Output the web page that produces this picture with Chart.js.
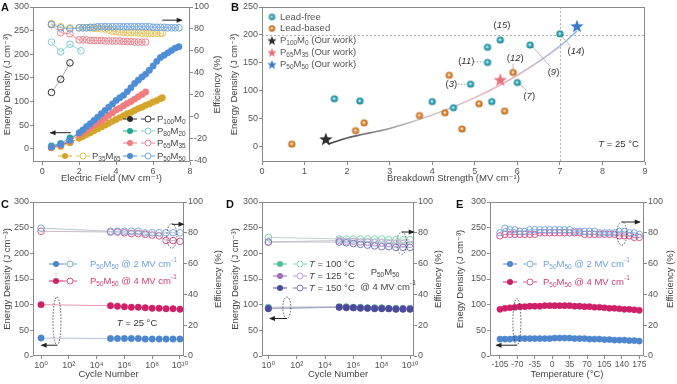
<!DOCTYPE html>
<html>
<head>
<meta charset="utf-8">
<script src="https://cdn.jsdelivr.net/npm/chart.js@4.4.1/dist/chart.umd.min.js"></script>
<style>
body { margin: 0; background: #fff; }
#wrap { position: relative; width: 677px; height: 384px; overflow: hidden; background: #fff; }
canvas { position: absolute; }
</style>
</head>
<body>
<div id="wrap">
  <canvas id="cA" width="225" height="192" style="left:0;top:0"></canvas>
  <canvas id="cB" width="452" height="192" style="left:225px;top:0"></canvas>
  <canvas id="cC" width="225" height="192" style="left:0;top:192px"></canvas>
  <canvas id="cD" width="223" height="192" style="left:225px;top:192px"></canvas>
  <canvas id="cE" width="229" height="192" style="left:448px;top:192px"></canvas>
</div>
<script>
// ---- Panel A : energy density / efficiency vs electric field ----
const fieldP100 = [0.5, 1.0, 1.5];
const energyP100 = [3, 8, 14];
const effP100 = [22, 34, 49];

const fieldP80 = [0.5, 1.0, 1.5, 2.1];
const energyP80 = [6, 11, 23, 34];
const effP80 = [68, 59, 66, 60];

const fieldP65 = [0.5, 1.0, 1.5, 2.0, 2.2, 2.4, 2.6, 2.8, 3.0, 3.2, 3.4, 3.6, 3.8, 4.0, 4.2, 4.4, 4.6, 4.8, 5.0, 5.2, 5.4, 5.6];
const energyP65 = [3, 7, 16, 30, 35, 40, 45, 50, 55, 60, 65, 71, 76, 82, 86, 91, 96, 100, 105, 110, 115, 120];
const effP65 = [84, 76.5, 75.5, 70, 70, 70, 69.5, 69.5, 69.5, 69.5, 69, 69, 69, 69, 69, 68.5, 68.5, 68.5, 68, 68, 68, 68];

const fieldP50 = [0.5, 1.0, 1.5, 2.0, 2.2, 2.4, 2.6, 2.8, 3.0, 3.2, 3.4, 3.6, 3.8, 4.0, 4.2, 4.4, 4.6, 4.8, 5.0, 5.2, 5.4, 5.6, 5.8, 6.0, 6.2, 6.4, 6.6, 6.8, 7.0, 7.2, 7.4];
const energyP50 = [4, 9, 18, 34, 40, 47, 53, 60, 67, 74, 81, 88, 95, 102, 108, 113, 121, 129, 138, 145, 152, 158, 166, 175, 185, 193, 198, 203, 208, 213, 216];
const effP50 = [84, 81, 80, 81, 81, 81, 81.5, 81.5, 82, 82, 82, 82, 82, 82, 82, 82, 82, 82, 82, 82, 82, 82, 82, 81.5, 81.5, 81.5, 81.5, 81, 81, 81, 81];

const fieldP35 = [0.5, 1.0, 1.5, 2.0, 2.2, 2.4, 2.6, 2.8, 3.0, 3.2, 3.4, 3.6, 3.8, 4.0, 4.2, 4.4, 4.6, 4.8, 5.0, 5.2, 5.4, 5.6, 5.8, 6.0, 6.2, 6.4, 6.5];
const energyP35 = [2, 5, 13, 22, 26, 30, 34, 38, 42, 46, 50, 54, 58, 62, 66, 70, 74, 77, 81, 85, 88, 92, 95, 99, 102, 106, 108];
const effP35 = [85, 82, 81, 81, 81, 81, 81, 80.5, 80.5, 80, 80, 79, 78, 77.5, 77, 77, 76.5, 76.5, 76.5, 76.5, 76, 76, 76, 76, 76, 76, 76];

const fieldTicks = [0, 2, 4, 6, 8];
const energyTicksA = [0, 50, 100, 150, 200, 250, 300];
const effTicksA = [-40, -20, 0, 20, 40, 60, 80, 100];

// ---- Panel B : energy density vs breakdown strength ----
const leadFreeX = [1.7, 2.3, 4.0, 4.5, 4.9, 5.3, 5.3, 5.4, 5.6, 6.0, 6.3, 7.0];
const leadFreeY = [86, 82, 81, 70, 112, 151, 178, 81, 191, 115, 182, 202];
const leadBasedX = [0.7, 2.2, 2.4, 3.7, 4.3, 4.4, 4.7, 5.1, 5.7, 5.9];
const leadBasedY = [5, 29, 43, 56, 61, 128, 32, 77, 64, 133];
const oursP100 = [1.5, 14];
const oursP65 = [5.6, 120];
const oursP50 = [7.4, 216];
const fitX = [1.55, 2, 3, 4, 5, 6, 7, 7.4];
const fitY = [5, 16, 33, 57, 88, 128, 180, 207];
const strengthTicks = [0, 1, 2, 3, 4, 5, 6, 7, 8, 9];
const energyTicksB = [0, 50, 100, 150, 200, 250];

// ---- Panel C : cycling at 25 °C ----
const cycles = [1, 1e5, 3.16e5, 1e6, 3.16e6, 1e7, 3.16e7, 1e8, 3.16e8, 1e9, 3.16e9, 1e10];
const energyC2 = [35, 34, 34, 34, 34, 34, 33, 33, 33, 33, 33, 33];
const energyC4 = [100, 98, 97, 96, 95, 95, 94, 93, 93, 92, 92, 91];
const effC2 = [83, 81, 81, 81, 81, 81, 80, 80, 80, 80, 80, 80];
const effC4 = [81, 80.5, 80.5, 80, 79.5, 79.5, 79, 78.5, 78, 75, 75, 74.5];
const cycleTicks = [1, 1e2, 1e4, 1e6, 1e8, 1e10];
const energyTicks = [0, 50, 100, 150, 200, 250, 300];
const effTicks = [0, 20, 40, 60, 80, 100];

// ---- Panel D : cycling at high temperature ----
const energyD100 = [95, 96, 96, 95, 95, 94, 94, 94, 93, 93, 93, 93];
const energyD125 = [93, 95, 95, 94, 94, 93, 93, 93, 92, 92, 92, 92];
const energyD150 = [92, 95, 94, 94, 93, 93, 92, 92, 92, 91, 91, 91];
const effD100 = [77, 76, 76, 76, 76, 76, 76, 76, 75.5, 75.5, 75.5, 75.5];
const effD125 = [74, 75, 74.5, 74.5, 74, 74, 73.5, 73.5, 73, 73, 73, 72.5];
const effD150 = [74, 74, 73.5, 73, 72.5, 72, 71.5, 71, 71, 70.5, 70.5, 70.5];

// ---- Panel E : temperature stability ----
const temps = [-105, -95, -85, -75, -65, -55, -45, -35, -25, -15, -5, 5, 15, 25, 35, 45, 55, 65, 75, 85, 95, 105, 115, 125, 135, 145, 155, 165, 175];
const energyE2 = [33, 33, 33, 34, 34, 34, 34, 34, 34, 34, 34, 35, 35, 35, 35, 34, 34, 34, 33, 33, 33, 32, 32, 31, 31, 31, 30, 30, 29];
const energyE4 = [91, 93, 94, 95, 96, 96, 97, 97, 97, 98, 98, 98, 98, 98, 98, 97, 97, 96, 96, 95, 95, 94, 93, 93, 92, 91, 91, 90, 89];
const effE2 = [80, 83, 82, 82, 81, 81, 82, 82, 82, 82, 82, 82, 82, 82, 82, 81, 81, 81, 81, 81, 80, 80, 80, 80, 81, 81, 80, 80, 79];
const effE4 = [78, 79, 79, 79, 79, 79, 79, 79, 80, 80, 80, 80, 80, 80, 80, 80, 80, 79, 79, 79, 79, 79, 79, 79, 78, 78, 78, 77, 77];
const tempTicks = [-105, -70, -35, 0, 35, 70, 105, 140, 175];

// ------------------------------------------------------------------
const FONT = "'Liberation Sans', Arial, 'DejaVu Sans', sans-serif";
Chart.defaults.font.family = FONT;
Chart.defaults.font.size = 9;
Chart.defaults.color = '#555';

const pts = (xs, ys) => xs.map((x, i) => ({ x, y: ys[i] }));
const SUP = '⁰¹²³⁴⁵⁶⁷⁸⁹';
const supDigits = n => String(n).split('').map(d => SUP[+d]).join('');

function filled(xs, ys, color, yAxisID = 'y', r = 3.2, lineColor) {
    return { data: pts(xs, ys), yAxisID, showLine: true, borderColor: lineColor || color, borderWidth: 0.8,
        pointRadius: r, pointBackgroundColor: color, pointBorderColor: color, pointBorderWidth: 0.5 };
}
function hollow(xs, ys, color, yAxisID = 'y2', r = 3.3, lineColor) {
    return { data: pts(xs, ys), yAxisID, showLine: true, borderColor: lineColor || color, borderWidth: 0.8,
        pointRadius: r, pointBackgroundColor: 'rgba(255,255,255,0)', pointBorderColor: color, pointBorderWidth: 1 };
}

// fixed-size axis with explicit ticks
function axis(type, position, min, max, ticks, size, title, titlePad, callback) {
    const vertical = position === 'left' || position === 'right';
    const cfg = {
        type, position, min, max,
        afterBuildTicks: s => { s.ticks = ticks.map(v => ({ value: v })); },
        afterFit: s => { if (vertical) s.width = size; else s.height = size; },
        grid: { drawOnChartArea: false, tickLength: 3, color: '#888', lineWidth: 1 },
        border: { display: false },
        ticks: { padding: 1, autoSkip: false, maxRotation: 0, minRotation: 0, color: '#555', font: { size: 9 } },
        title: title ? { display: true, text: title, color: '#444', font: { size: 9.5 },
            padding: vertical ? { top: titlePad, bottom: 0 } : { top: 0, bottom: titlePad } } : { display: false }
    };
    if (callback) cfg.ticks.callback = callback;
    return cfg;
}

function baseOptions(padding, scales) {
    return {
        responsive: false, devicePixelRatio: 1, animation: false,
        layout: { padding, autoPadding: false },
        plugins: { legend: { display: false }, tooltip: { enabled: false } },
        scales
    };
}

// text with _{sub} ^{sup} *italic*
function richText(ctx, x, y, str, size, color, align) {
    const parts = [];
    const re = /_\{([^}]*)\}|\^\{([^}]*)\}|\*([^*]*)\*|([^_^*]+)/g;
    let m;
    while ((m = re.exec(str))) {
        if (m[1] !== undefined) parts.push({ t: m[1], k: 'sub' });
        else if (m[2] !== undefined) parts.push({ t: m[2], k: 'sup' });
        else if (m[3] !== undefined) parts.push({ t: m[3], k: 'it' });
        else parts.push({ t: m[4], k: '' });
    }
    const fontFor = k => (k === 'it' ? 'italic ' : '') + ((k === 'sub' || k === 'sup') ? size * 0.68 : size) + 'px ' + FONT;
    let w = 0;
    parts.forEach(p => { ctx.font = fontFor(p.k); p.w = ctx.measureText(p.t).width; w += p.w; });
    let cx = align === 'center' ? x - w / 2 : align === 'right' ? x - w : x;
    ctx.fillStyle = color; ctx.textBaseline = 'middle'; ctx.textAlign = 'left';
    parts.forEach(p => {
        ctx.font = fontFor(p.k);
        const dy = p.k === 'sub' ? size * 0.3 : p.k === 'sup' ? -size * 0.35 : 0;
        ctx.fillText(p.t, cx, y + dy);
        cx += p.w;
    });
}

function arrow(ctx, x1, y1, x2, y2) {
    ctx.setLineDash([]);
    ctx.strokeStyle = '#222'; ctx.fillStyle = '#222'; ctx.lineWidth = 1;
    ctx.beginPath(); ctx.moveTo(x1, y1); ctx.lineTo(x2, y2); ctx.stroke();
    const dir = Math.sign(x2 - x1) || 1;
    ctx.beginPath(); ctx.moveTo(x2 + dir * 1, y2); ctx.lineTo(x2 - dir * 5, y2 - 2.5); ctx.lineTo(x2 - dir * 5, y2 + 2.5); ctx.closePath(); ctx.fill();
}

function dashEllipse(ctx, cx, yTop, yBot, rx) {
    ctx.save();
    ctx.setLineDash([1.5, 1.5]); ctx.strokeStyle = '#333'; ctx.lineWidth = 0.8;
    ctx.beginPath(); ctx.ellipse(cx, (yTop + yBot) / 2, rx, Math.abs(yBot - yTop) / 2, 0, 0, Math.PI * 2); ctx.stroke();
    ctx.restore();
}

function legendPair(ctx, x, ox, y, fillColor, openColor) {
    ctx.setLineDash([]);
    ctx.lineWidth = 1;
    ctx.strokeStyle = fillColor;
    ctx.beginPath(); ctx.moveTo(x - 7, y); ctx.lineTo(x + 7, y); ctx.stroke();
    ctx.fillStyle = fillColor;
    ctx.beginPath(); ctx.arc(x, y, 3, 0, Math.PI * 2); ctx.fill();
    ctx.strokeStyle = openColor;
    ctx.beginPath(); ctx.moveTo(ox - 7, y); ctx.lineTo(ox - 3.3, y); ctx.moveTo(ox + 3.3, y); ctx.lineTo(ox + 7, y); ctx.stroke();
    ctx.beginPath(); ctx.arc(ox, y, 3, 0, Math.PI * 2); ctx.stroke();
}

function makePanel(cfg) {
    return {
        id: 'panel' + cfg.letter,
        beforeDatasetsDraw(chart) {
            if (!cfg.under) return;
            chart.ctx.save(); cfg.under(chart.ctx, chart); chart.ctx.restore();
        },
        afterDraw(chart) {
            const ctx = chart.ctx, a = chart.chartArea;
            ctx.save();
            ctx.setLineDash([]);
            ctx.strokeStyle = '#8a8a8a'; ctx.lineWidth = 1;
            ctx.strokeRect(Math.round(a.left) + 0.5, Math.round(a.top) + 0.5, Math.round(a.right - a.left) - 1, Math.round(a.bottom - a.top) - 1);
            ctx.font = 'bold 11px ' + FONT; ctx.fillStyle = '#111'; ctx.textBaseline = 'middle'; ctx.textAlign = 'left';
            ctx.fillText(cfg.letter, cfg.lx, cfg.ly);
            if (cfg.rightTitle) {
                ctx.save();
                ctx.translate(cfg.rtx, (a.top + a.bottom) / 2);
                ctx.rotate(-Math.PI / 2);
                richText(ctx, 0, 0, cfg.rightTitle, 9.5, '#444', 'center');
                ctx.restore();
            }
            if (cfg.draw) cfg.draw(ctx, chart);
            ctx.restore();
        }
    };
}

function starImage(color, r) {
    const c = document.createElement('canvas');
    const s = Math.ceil(r * 2 + 2);
    c.width = c.height = s;
    const g = c.getContext('2d');
    g.beginPath();
    for (let i = 0; i < 10; i++) {
        const ang = -Math.PI / 2 + i * Math.PI / 5;
        const rr = i % 2 ? r * 0.42 : r;
        g.lineTo(s / 2 + rr * Math.cos(ang), s / 2 + rr * Math.sin(ang) + r * 0.08);
    }
    g.closePath(); g.fillStyle = color; g.fill();
    return c;
}
function sphereImage(base, dark, r) {
    const c = document.createElement('canvas');
    const s = Math.ceil(r * 2 + 2);
    c.width = c.height = s;
    const g = c.getContext('2d');
    const grad = g.createRadialGradient(s / 2 - r * 0.1, s / 2 - r * 0.1, r * 0.1, s / 2, s / 2, r);
    grad.addColorStop(0, '#ffffff');
    grad.addColorStop(0.35, base);
    grad.addColorStop(1, dark);
    g.beginPath(); g.arc(s / 2, s / 2, r, 0, Math.PI * 2); g.fillStyle = grad; g.fill();
    return c;
}

// ---------------- Panel A ----------------
(function () {
    const C = {
        p100: '#2b2b2b', p80: '#1fa595', p80o: '#7ccccc', p65: '#f07c80', p65o: '#e8838e',
        p50: '#4e8ed6', p50o: '#6ea4de', p35: '#d4a52a', p35o: '#e2c25a'
    };
    const sets = [
        hollow(fieldP80, effP80, C.p80o),
        hollow(fieldP35, effP35, C.p35o),
        hollow(fieldP65, effP65, C.p65o),
        hollow(fieldP50, effP50, C.p50o),
        hollow(fieldP100, effP100, C.p100, 'y2', 3.3, '#999'),
        filled(fieldP100, energyP100, C.p100),
        filled(fieldP80, energyP80, C.p80),
        filled(fieldP35, energyP35, C.p35),
        filled(fieldP65, energyP65, C.p65),
        filled(fieldP50, energyP50, C.p50)
    ].reverse();
    new Chart(document.getElementById('cA'), {
        type: 'scatter',
        data: { datasets: sets },
        options: baseOptions({ top: 7, left: 0, right: 0, bottom: 0 }, {
            x: axis('linear', 'bottom', -0.5, 8, fieldTicks, 30, 'Electric Field (MV cm⁻¹)', 8),
            y: axis('linear', 'left', -28, 300, energyTicksA, 33, 'Energy Density (J cm⁻³)', 1.3),
            y2: axis('linear', 'right', -41.5, 100, effTicksA, 35, null, 0)
        }),
        plugins: [makePanel({
            letter: 'A', lx: 1, ly: 8, rightTitle: 'Efficiency (%)', rtx: 217,
            draw(ctx, ch) {
                const x = v => ch.scales.x.getPixelForValue(v);
                const y = v => ch.scales.y.getPixelForValue(v);
                const y2 = v => ch.scales.y2.getPixelForValue(v);
                arrow(ctx, x(1.55), y(34), x(0.45), y(34));
                arrow(ctx, x(6.5), y2(88), x(7.55), y2(88));
                const rows = [
                    [C.p100, C.p100, 'P_{100}M_{0}', 119],
                    [C.p80, C.p80o, 'P_{80}M_{20}', 131],
                    [C.p65, C.p65o, 'P_{65}M_{35}', 143],
                    [C.p50, C.p50o, 'P_{50}M_{50}', 156]
                ];
                rows.forEach(r => {
                    legendPair(ctx, 130, 148, r[3], r[0], r[1]);
                    richText(ctx, 157, r[3], r[2], 9.5, '#444', 'left');
                });
                legendPair(ctx, 65, 83, 156, C.p35, C.p35o);
                richText(ctx, 92, 156, 'P_{35}M_{65}', 9.5, '#444', 'left');
            }
        })]
    });
})();

// ---------------- Panel B ----------------
(function () {
    const teal = sphereImage('#38b4c4', '#1a7f8c', 3.6);
    const orange = sphereImage('#ec9440', '#b4621a', 3.6);
    const sBlack = starImage('#2e2e2e', 7), sPink = starImage('#ec6f7c', 7), sBlue = starImage('#3a7bcc', 7);
    const lTeal = sphereImage('#38b4c4', '#1a7f8c', 3.2);
    const lOrange = sphereImage('#ec9440', '#b4621a', 3.2);
    const lBlack = starImage('#2e2e2e', 5), lPink = starImage('#ec6f7c', 5), lBlue = starImage('#3a7bcc', 5);
    const scatterSet = (xs, ys, img) => ({ data: pts(xs, ys), pointStyle: img, pointRadius: 4, showLine: false });
    const sets = [
        {
            data: pts(fitX, fitY), showLine: true, pointRadius: 0, borderWidth: 1.6, tension: 0.4,
            cubicInterpolationMode: 'monotone',
            borderColor: c => {
                const ch = c.chart;
                if (!ch.chartArea) return '#bbb';
                const sx = ch.scales.x;
                const g = ch.ctx.createLinearGradient(sx.getPixelForValue(fitX[0]), 0, sx.getPixelForValue(fitX[fitX.length - 1]), 0);
                g.addColorStop(0, '#3a3a3a');
                g.addColorStop(0.35, '#c4c4c4');
                g.addColorStop(0.7, '#f2b3bd');
                g.addColorStop(1, '#8db6e8');
                return g;
            }
        },
        scatterSet(leadFreeX, leadFreeY, teal),
        scatterSet(leadBasedX, leadBasedY, orange),
        scatterSet([oursP100[0]], [oursP100[1]], sBlack),
        scatterSet([oursP65[0]], [oursP65[1]], sPink),
        scatterSet([oursP50[0]], [oursP50[1]], sBlue)
    ].reverse();
    new Chart(document.getElementById('cB'), {
        type: 'scatter',
        data: { datasets: sets },
        options: baseOptions({ top: 7, left: 0, right: 32, bottom: 0 }, {
            x: axis('linear', 'bottom', 0, 9, strengthTicks, 30, 'Breakdown Strength (MV cm⁻¹)', 8),
            y: axis('linear', 'left', -27, 250, energyTicksB, 37, 'Energy Density (J cm⁻³)', 4)
        }),
        plugins: [makePanel({
            letter: 'B', lx: 6, ly: 8,
            under(ctx, ch) {
                const x = v => ch.scales.x.getPixelForValue(v);
                const y = v => ch.scales.y.getPixelForValue(v);
                const a = ch.chartArea;
                ctx.strokeStyle = '#b0b0b0'; ctx.lineWidth = 1; ctx.setLineDash([2, 2]);
                ctx.beginPath();
                ctx.moveTo(a.left, Math.round(y(200)) + 0.5); ctx.lineTo(a.right, Math.round(y(200)) + 0.5);
                ctx.moveTo(Math.round(x(7)) + 0.5, a.top); ctx.lineTo(Math.round(x(7)) + 0.5, a.bottom);
                ctx.stroke();
                // leaders to the reference labels
                ctx.setLineDash([1.5, 1.5]); ctx.strokeStyle = '#999';
                ctx.beginPath();
                ctx.moveTo(x(4.97), y(152)); ctx.lineTo(x(5.2), y(152));
                ctx.moveTo(x(4.6), y(112)); ctx.lineTo(x(4.82), y(112));
                ctx.stroke();
                ctx.setLineDash([]); ctx.strokeStyle = '#aaa'; ctx.lineWidth = 0.8;
                ctx.beginPath();
                ctx.moveTo(x(6.35), y(180)); ctx.lineTo(x(6.78), y(143));
                ctx.moveTo(x(7.05), y(197)); ctx.lineTo(x(7.25), y(180));
                ctx.moveTo(x(6.06), y(112)); ctx.lineTo(x(6.22), y(101));
                ctx.moveTo(x(5.9), y(149)); ctx.lineTo(x(5.9), y(138));
                ctx.stroke();
            },
            draw(ctx, ch) {
                const x = v => ch.scales.x.getPixelForValue(v);
                const y = v => ch.scales.y.getPixelForValue(v);
                const labels = [['(*15*)', 5.64, 218], ['(*11*)', 4.8, 152], ['(*3*)', 4.45, 112], ['(*12*)', 5.95, 158],
                    ['(*7*)', 6.28, 91], ['(*9*)', 6.85, 134], ['(*14*)', 7.38, 171]];
                labels.forEach(l => richText(ctx, x(l[1]), y(l[2]), l[0], 9.5, '#333', 'center'));
                richText(ctx, x(8.38), y(5), '*T* = 25 °C', 9.5, '#333', 'center');
                const rows = [[lTeal, 'Lead-free', 17], [lOrange, 'Lead-based', 28.5],
                    [lBlack, 'P_{100}M_{0} (Our work)', 40.5], [lPink, 'P_{65}M_{35} (Our work)', 52.5], [lBlue, 'P_{50}M_{50} (Our work)', 64.5]];
                rows.forEach(r => {
                    ctx.drawImage(r[0], 47 - r[0].width / 2, r[2] - r[0].height / 2);
                    richText(ctx, 55, r[2], r[1], 9.5, '#555', 'left');
                });
            }
        })]
    });
})();

// ---------------- Panel C ----------------
const logLabel = v => '10' + supDigits(Math.round(Math.log10(v)));
(function () {
    const blue = '#4d86cc', crimson = '#cf1f66', blueO = '#79a7dc', pinkO = '#d2558a';
    const sets = [
        hollow(cycles, effC4, pinkO, 'y2', 3.3, '#b9a9b4'),
        hollow(cycles, effC2, blueO, 'y2', 3.3, '#aab4c2'),
        filled(cycles, energyC4, crimson, 'y', 3.2, '#e07aa0'),
        filled(cycles, energyC2, blue, 'y', 3.2, '#9fb3cc')
    ].reverse();
    new Chart(document.getElementById('cC'), {
        type: 'scatter',
        data: { datasets: sets },
        options: baseOptions({ top: 10, left: 0, right: 0, bottom: 0 }, {
            x: axis('logarithmic', 'bottom', 0.263, 1.95e10, cycleTicks, 28, 'Cycle Number', 4.3, logLabel),
            y: axis('linear', 'left', 0, 300, energyTicks, 33, 'Energy Density (J cm⁻³)', 1.3),
            y2: axis('linear', 'right', 0, 100, effTicks, 41, null, 0)
        }),
        plugins: [makePanel({
            letter: 'C', lx: 1, ly: 13, rightTitle: 'Efficiency (%)', rtx: 218,
            draw(ctx, ch) {
                const x = v => ch.scales.x.getPixelForValue(v);
                const y = v => ch.scales.y.getPixelForValue(v);
                const y2 = v => ch.scales.y2.getPixelForValue(v);
                legendPair(ctx, 56, 70, 72, blue, blueO);
                richText(ctx, 90, 72, 'P_{50}M_{50} @ 2 MV cm^{-1}', 9.5, '#6f9fd6', 'left');
                legendPair(ctx, 56, 70, 89, crimson, pinkO);
                richText(ctx, 90, 89, 'P_{50}M_{50} @ 4 MV cm^{-1}', 9.5, '#cc3d78', 'left');
                richText(ctx, 137, 131, '*T* = 25 °C', 9.5, '#333', 'center');
                dashEllipse(ctx, x(14), y(115), y(21), 4);
                arrow(ctx, x(14), y(21), x(1.1), y(21));
                dashEllipse(ctx, x(2.6e9), y2(86), y2(70), 5);
                arrow(ctx, x(2.6e9), y2(85.5), x(1.8e10), y2(85.5));
            }
        })]
    });
})();

// ---------------- Panel D ----------------
(function () {
    const green = '#4fc39a', purple = '#9b6fb5', navy = '#4b4b9e';
    const greenO = '#7fd6b6', purpleO = '#c49ad6', navyO = '#7777c4';
    const sets = [
        hollow(cycles, effD100, greenO, 'y2', 3.3, '#b8c4c0'),
        hollow(cycles, effD125, purpleO, 'y2', 3.3, '#c0b8c4'),
        hollow(cycles, effD150, navyO, 'y2', 3.3, '#b4b4c8'),
        filled(cycles, energyD100, green, 'y', 3.2, '#a8b4c0'),
        filled(cycles, energyD125, purple, 'y', 3.2, '#a8a8c0'),
        filled(cycles, energyD150, navy, 'y', 3.2, '#a0a0c0')
    ].reverse();
    new Chart(document.getElementById('cD'), {
        type: 'scatter',
        data: { datasets: sets },
        options: baseOptions({ top: 10, left: 0, right: 0, bottom: 0 }, {
            x: axis('logarithmic', 'bottom', 0.355, 1.9e10, cycleTicks, 28, 'Cycle Number', 4.3, logLabel),
            y: axis('linear', 'left', 0, 300, energyTicks, 37, 'Energy Density (J cm⁻³)', 4.3),
            y2: axis('linear', 'right', 0, 100, effTicks, 34, null, 0)
        }),
        plugins: [makePanel({
            letter: 'D', lx: 1, ly: 13, rightTitle: 'Efficiency (%)', rtx: 213,
            draw(ctx, ch) {
                const x = v => ch.scales.x.getPixelForValue(v);
                const y = v => ch.scales.y.getPixelForValue(v);
                const y2 = v => ch.scales.y2.getPixelForValue(v);
                const rows = [[green, greenO, '*T* = 100 °C', 72], [purple, purpleO, '*T* = 125 °C', 84], [navy, navyO, '*T* = 150 °C', 96]];
                rows.forEach(r => {
                    legendPair(ctx, 55, 75, r[3], r[0], r[1]);
                    richText(ctx, 84, r[3], r[2], 9.5, '#444', 'left');
                });
                richText(ctx, 160, 80, 'P_{50}M_{50}', 9.5, '#444', 'center');
                richText(ctx, 163, 95, '@ 4 MV cm^{-1}', 9.5, '#444', 'center');
                dashEllipse(ctx, x(20), y(115), y(73), 4);
                arrow(ctx, x(20), y(73), x(1.3), y(73));
                dashEllipse(ctx, x(2.6e9), y2(80.5), y2(66), 5);
                arrow(ctx, x(2.6e9), y2(80.5), x(1.8e10), y2(80.5));
            }
        })]
    });
})();

// ---------------- Panel E ----------------
(function () {
    const blue = '#4d86cc', crimson = '#cf1f66', blueO = '#79a7dc', pinkO = '#d2558a';
    const sets = [
        hollow(temps, effE4, pinkO, 'y2', 3.2),
        hollow(temps, effE2, blueO, 'y2', 3.2),
        filled(temps, energyE4, crimson, 'y', 3.1),
        filled(temps, energyE2, blue, 'y', 3.1)
    ].reverse();
    const xa = axis('linear', 'bottom', -125, 184.5, tempTicks, 28, 'Temperature (°C)', 4.3);
    xa.ticks.font = { size: 8.5 };
    new Chart(document.getElementById('cE'), {
        type: 'scatter',
        data: { datasets: sets },
        options: baseOptions({ top: 10, left: 0, right: 0, bottom: 0 }, {
            x: xa,
            y: axis('linear', 'left', 0, 300, energyTicks, 42, 'Enegy Density (J cm⁻³)', 6.3),
            y2: axis('linear', 'right', 0, 100, effTicks, 33, null, 0)
        }),
        plugins: [makePanel({
            letter: 'E', lx: 8, ly: 13, rightTitle: 'Efficiency (%)', rtx: 222,
            draw(ctx, ch) {
                const x = v => ch.scales.x.getPixelForValue(v);
                const y = v => ch.scales.y.getPixelForValue(v);
                const y2 = v => ch.scales.y2.getPixelForValue(v);
                legendPair(ctx, 62, 82, 72, blue, blueO);
                richText(ctx, 95, 72, 'P_{50}M_{50} @ 2 MV cm^{-1}', 9.5, '#6f9fd6', 'left');
                legendPair(ctx, 62, 82, 90, crimson, pinkO);
                richText(ctx, 95, 90, 'P_{50}M_{50} @ 4 MV cm^{-1}', 9.5, '#cc3d78', 'left');
                dashEllipse(ctx, x(-71), y(112), y(21), 4);
                arrow(ctx, x(-71), y(21), x(-112), y(21));
                dashEllipse(ctx, x(140), y2(87), y2(72), 5);
                arrow(ctx, x(140), y2(87), x(176), y2(87));
            }
        })]
    });
})();
</script>
</body>
</html>
